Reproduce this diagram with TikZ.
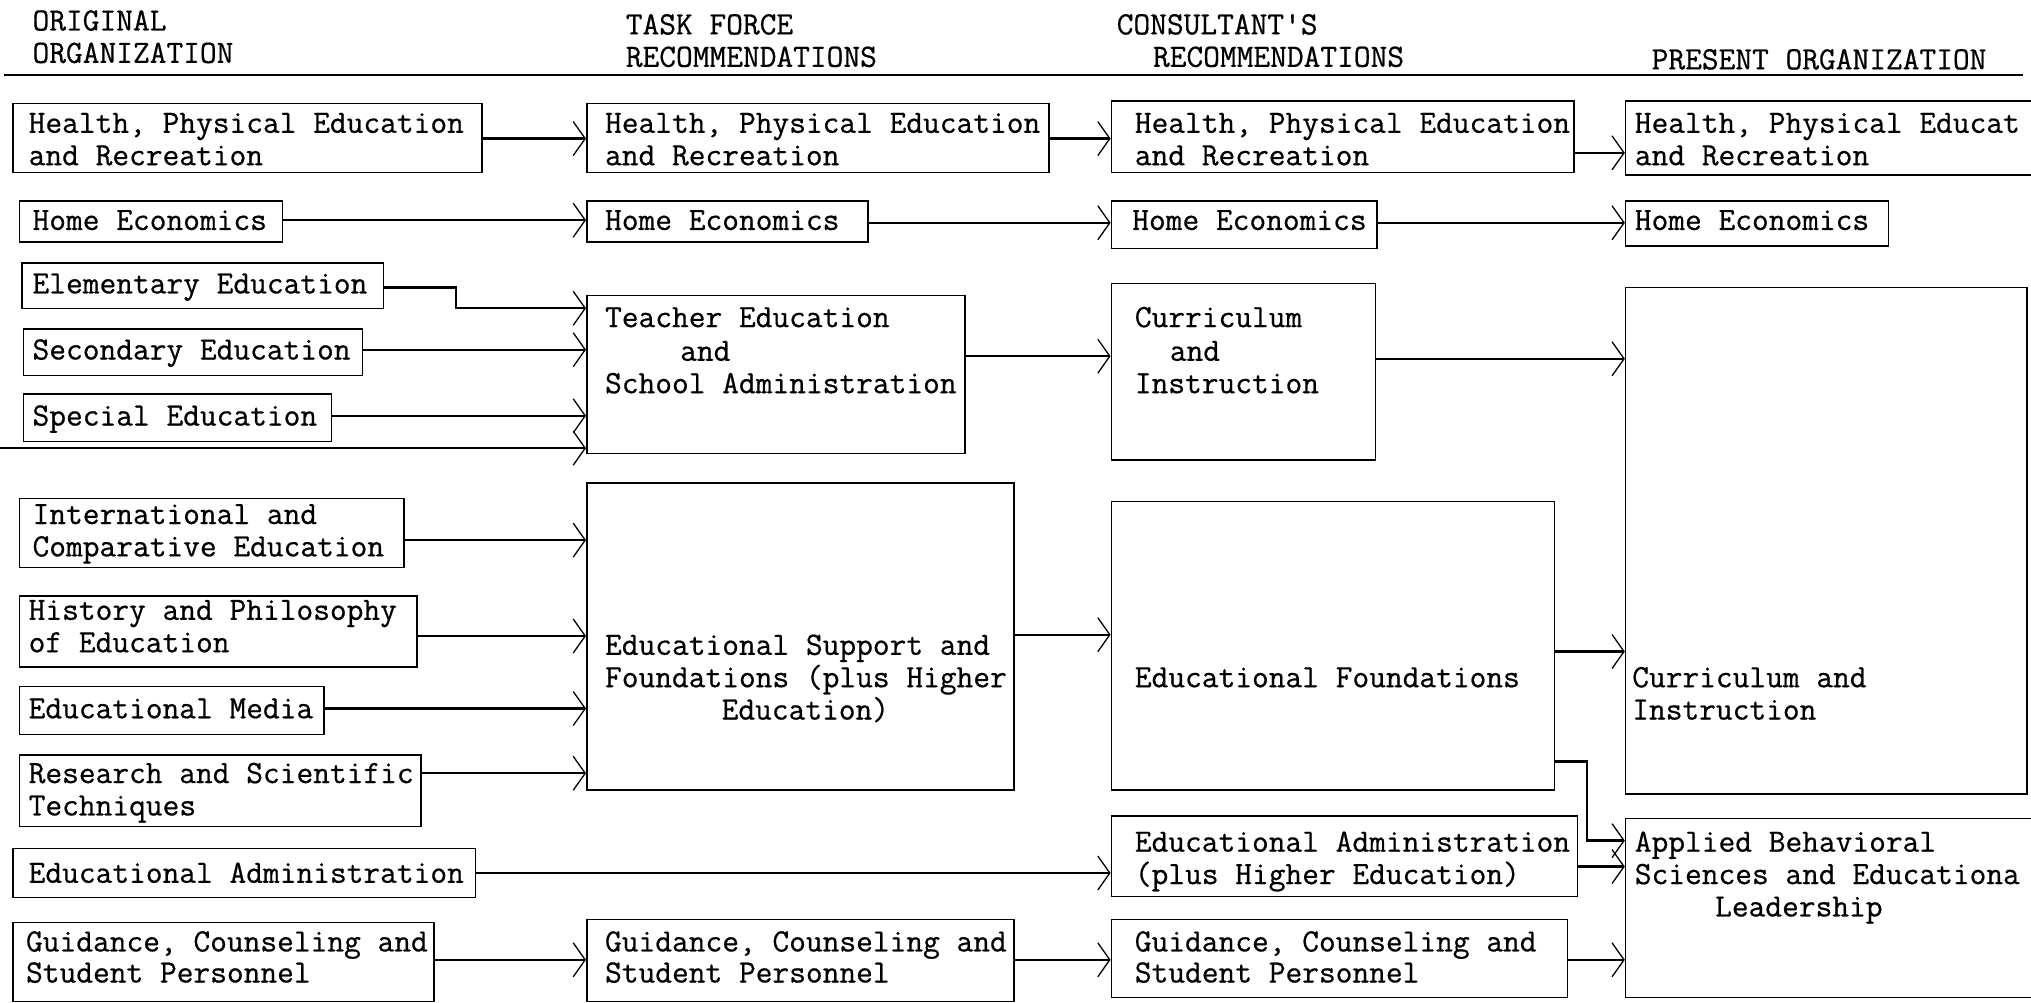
\documentclass[tikz,border=0pt]{standalone}
\usepackage{fontspec}
\newfontfamily\tyf{Latin Modern Mono}[FakeBold=0.6]
\usetikzlibrary{arrows.meta,fit}
\begin{document}
\begin{tikzpicture}[x=1.2953pt,y=-1.2953pt,
  box/.style={draw=black,line width=1.5pt,inner sep=0pt,rectangle},
  txt/.style={anchor=base west,inner sep=0pt,yshift=-2pt,font=\tyf\fontsize{32.5pt}{36pt}\selectfont},
  arr/.style={line width=2.3pt,-{Straight Barb[length=12pt,width=34pt,line width=1.3pt]}},
  rule/.style={line width=2.6pt}]
\clip (0,0) rectangle (1568,774);
\fill[white] (0,0) rectangle (1568,774);
% header
\node[txt] (h1) at (25,22) {ORIGINAL};
\node[txt] (h2) at (25,47) {ORGANIZATION};
\node[txt] (h3) at (483,25) {TASK FORCE};
\node[txt] (h4) at (483,50) {RECOMMENDATIONS};
\node[txt] (h5) at (862,25) {CONSULTANT'S};
\node[txt] (h6) at (890,50) {RECOMMENDATIONS};
\node[txt] (h7) at (1275,52) {PRESENT ORGANIZATION};
\coordinate (rl) at (3,58);
\coordinate (rr) at (1562,58);
\draw[rule] (rl) -- (rr);
% column 1 boxes
\node[box,fit={(10,80) (372,133)}] (o1) {};
\node[box,fit={(15,155) (218,187)}] (o2) {};
\node[box,fit={(17,203) (296,238)}] (o3) {};
\node[box,fit={(18,254) (280,290)}] (o4) {};
\node[box,fit={(18,304) (256,341)}] (o5) {};
\node[box,fit={(15,385) (312,438)}] (o6) {};
\node[box,fit={(15,460) (322,515)}] (o7) {};
\node[box,fit={(15,530) (250,567)}] (o8) {};
\node[box,fit={(15,583) (325,638)}] (o9) {};
\node[box,fit={(10,655) (367,693)}] (o10) {};
\node[box,fit={(10,712) (335,773)}] (o11) {};
\node[txt] (o1a) at (22,101) {Health, Physical Education};
\node[txt] (o1b) at (22,126) {and Recreation};
\node[txt] (o2a) at (25,176) {Home Economics};
\node[txt] (o3a) at (25,225) {Elementary Education};
\node[txt] (o4a) at (25,276) {Secondary Education};
\node[txt] (o5a) at (25,327) {Special Education};
\node[txt] (o6a) at (25,403) {International and};
\node[txt] (o6b) at (25,428) {Comparative Education};
\node[txt] (o7a) at (22,477) {History and Philosophy};
\node[txt] (o7b) at (22,502) {of Education};
\node[txt] (o8a) at (22,553) {Educational Media};
\node[txt] (o9a) at (22,603) {Research and Scientific};
\node[txt] (o9b) at (22,628) {Techniques};
\node[txt] (o10a) at (22,680) {Educational Administration};
\node[txt] (o11a) at (20,733) {Guidance, Counseling and};
\node[txt] (o11b) at (20,757) {Student Personnel};
% column 2 boxes
\node[box,fit={(453,80) (810,133)}] (t1) {};
\node[box,fit={(453,155) (670,187)}] (t2) {};
\node[box,fit={(453,228) (745,350)}] (t3) {};
\node[box,fit={(453,373) (783,610)}] (t4) {};
\node[box,fit={(453,710) (783,773)}] (t5) {};
\node[txt] (t1a) at (467,101) {Health, Physical Education};
\node[txt] (t1b) at (467,126) {and Recreation};
\node[txt] (t2a) at (467,176) {Home Economics};
\node[txt] (t3a) at (467,251) {Teacher Education};
\node[txt] (t3b) at (525,277) {and};
\node[txt] (t3c) at (467,302) {School Administration};
\node[txt] (t4a) at (467,504) {Educational Support and};
\node[txt] (t4b) at (467,529) {Foundations (plus Higher};
\node[txt] (t4c) at (557,554) {Education)};
\node[txt] (t5a) at (467,733) {Guidance, Counseling and};
\node[txt] (t5b) at (467,757) {Student Personnel};
% column 3 boxes
\node[box,fit={(858,78) (1215,133)}] (c1) {};
\node[box,fit={(858,155) (1063,192)}] (c2) {};
\node[box,fit={(858,219) (1062,355)}] (c3) {};
\node[box,fit={(858,387) (1200,610)}] (c4) {};
\node[box,fit={(858,630) (1218,692)}] (c5) {};
\node[box,fit={(858,710) (1210,770)}] (c6) {};
\node[txt] (c1a) at (876,101) {Health, Physical Education};
\node[txt] (c1b) at (876,126) {and Recreation};
\node[txt] (c2a) at (874,176) {Home Economics};
\node[txt] (c3a) at (876,251) {Curriculum};
\node[txt] (c3b) at (903,277) {and};
\node[txt] (c3c) at (876,302) {Instruction};
\node[txt] (c4a) at (876,529) {Educational Foundations};
\node[txt] (c5a) at (876,656) {Educational Administration};
\node[txt] (c5b) at (876,681) {(plus Higher Education)};
\node[txt] (c6a) at (876,733) {Guidance, Counseling and};
\node[txt] (c6b) at (876,757) {Student Personnel};
% column 4 boxes
\node[box,fit={(1255,78) (1600,135)}] (p1) {};
\node[box,fit={(1255,155) (1458,190)}] (p2) {};
\node[box,fit={(1255,222) (1565,613)}] (p3) {};
\node[box,fit={(1255,632) (1600,770)}] (p4) {};
\node[txt] (p1a) at (1262,101) {Health, Physical Educat};
\node[txt] (p1b) at (1262,126) {and Recreation};
\node[txt] (p2a) at (1262,176) {Home Economics};
\node[txt] (p3a) at (1260,529) {Curriculum and};
\node[txt] (p3b) at (1260,554) {Instruction};
\node[txt] (p4a) at (1262,656) {Applied Behavioral};
\node[txt] (p4b) at (1262,681) {Sciences and Educationa};
\node[txt] (p4c) at (1324,706) {Leadership};
% connector rows
\coordinate (y107) at (0,107);
\coordinate (y118) at (0,118);
\coordinate (y170) at (0,170);
\coordinate (y172) at (0,172);
\coordinate (y270) at (0,270);
\coordinate (y275) at (0,275);
\coordinate (y277) at (0,277);
\coordinate (y321) at (0,321);
\coordinate (y417) at (0,417);
\coordinate (y490) at (0,490);
\coordinate (y491) at (0,491);
\coordinate (y503) at (0,503);
\coordinate (y547) at (0,547);
\coordinate (y597) at (0,597);
\coordinate (y674) at (0,674);
\coordinate (y669) at (0,669);
\coordinate (y741) at (0,741);
\coordinate (k1) at (352,222);
\coordinate (k2) at (352,238);
\coordinate (k3) at (1225,588);
\coordinate (k4) at (1225,649);
\coordinate (lft) at (0,346);
% connectors
\draw[arr] (o1.east |- y107) -- (t1.west |- y107);
\draw[arr] (t1.east |- y107) -- (c1.west |- y107);
\draw[arr] (c1.east |- y118) -- (p1.west |- y118);
\draw[arr] (o2.east |- y170) -- (t2.west |- y170);
\draw[arr] (t2.east |- y172) -- (c2.west |- y172);
\draw[arr] (c2.east |- y172) -- (p2.west |- y172);
\draw[arr] (o3.east |- k1) -- (k1) -- (k2) -- (t3.west |- k2);
\draw[arr] (o4.east |- y270) -- (t3.west |- y270);
\draw[arr] (o5.east |- y321) -- (t3.west |- y321);
\draw[arr] (lft) -- (t3.west |- lft);
\draw[arr] (t3.east |- y275) -- (c3.west |- y275);
\draw[arr] (c3.east |- y277) -- (p3.west |- y277);
\draw[arr] (o6.east |- y417) -- (t4.west |- y417);
\draw[arr] (o7.east |- y491) -- (t4.west |- y491);
\draw[arr] (o8.east |- y547) -- (t4.west |- y547);
\draw[arr] (o9.east |- y597) -- (t4.west |- y597);
\draw[arr] (t4.east |- y490) -- (c4.west |- y490);
\draw[arr] (c4.east |- y503) -- (p3.west |- y503);
\draw[arr] (c4.east |- k3) -- (k3) -- (k4) -- (p4.west |- k4);
\draw[arr] (o10.east |- y674) -- (c5.west |- y674);
\draw[arr] (c5.east |- y669) -- (p4.west |- y669);
\draw[arr] (o11.east |- y741) -- (t5.west |- y741);
\draw[arr] (t5.east |- y741) -- (c6.west |- y741);
\draw[arr] (c6.east |- y741) -- (p4.west |- y741);
\end{tikzpicture}
\end{document}
